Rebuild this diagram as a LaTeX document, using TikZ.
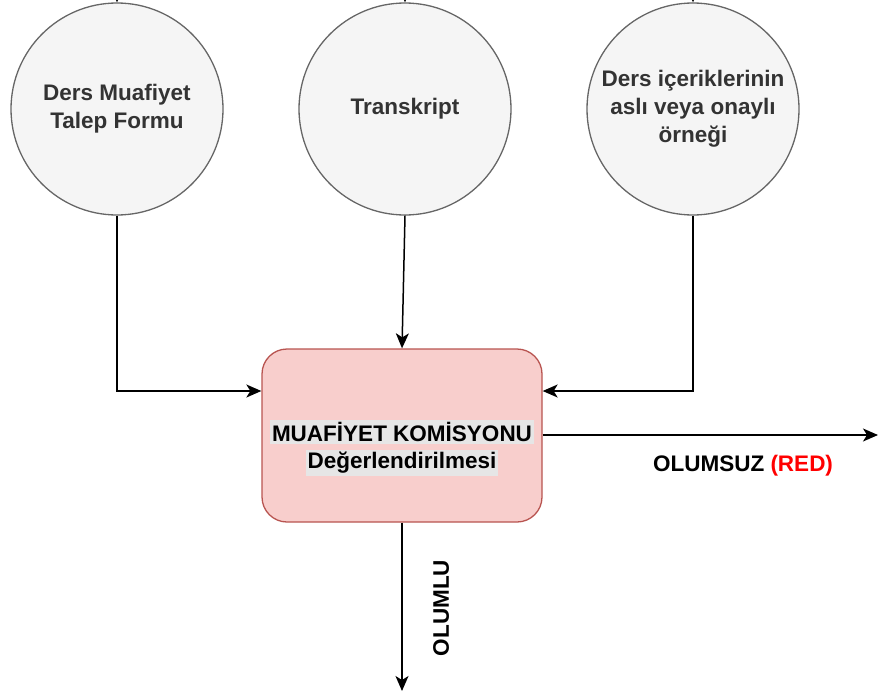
\documentclass[tikz,border=0pt]{standalone}
\usepackage{fontspec}
\setmainfont{Liberation Sans}
\usetikzlibrary{arrows.meta}
\definecolor{evrakfill}{HTML}{F5F5F5}
\definecolor{evrakline}{HTML}{666666}
\definecolor{evraktext}{HTML}{333333}
\definecolor{komfill}{HTML}{F8CECC}
\definecolor{komline}{HTML}{B85450}
\definecolor{yazibg}{HTML}{E6E6E6}
\setlength{\fboxsep}{2pt}
\begin{document}
\begin{tikzpicture}[x=1pt,y=-1pt,
    yazi/.style={font=\fontsize{22.5}{28}\selectfont\bfseries},
    evrak/.style={yazi,circle,draw=evrakline,fill=evrakfill,line width=1.3pt,
        minimum size=212pt,inner sep=0pt,align=center,text=evraktext},
    komisyon/.style={rectangle,rounded corners=25pt,draw=komline,fill=komfill,
        line width=1.3pt,minimum width=280pt,minimum height=173pt},
    akis/.style={line width=1.5pt,-{Stealth[length=15pt,width=13pt,inset=4pt]}}]
    \useasboundingbox (0,0) rectangle (878,693);
    % belgeler
    \node[evrak] (form) at (117,109) {Ders Muafiyet\\Talep Formu};
    \node[evrak] (transkript) at (405,109) {Transkript};
    \node[evrak] (icerik) at (693,109) {Ders içeriklerinin\\aslı veya onaylı\\örneği};
    % komisyon
    \node[komisyon] (kom) at (402,435.5) {};
    \node[yazi,align=center,font=\fontsize{22.5}{27}\selectfont\bfseries] (komyazi) at (402,448)
        {\colorbox{yazibg}{MUAFİYET KOMİSYONU}\\\colorbox{yazibg}{Değerlendirilmesi}};
    % serbest uclar
    \coordinate (g1) at (117,-30);
    \coordinate (g2) at (405,-30);
    \coordinate (g3) at (693,-30);
    \coordinate (red) at (878,435);
    \coordinate (onay) at (402,691);
    \draw[akis] (g1) -- (form.north);
    \draw[akis] (g2) -- (transkript.north);
    \draw[akis] (g3) -- (icerik.north);
    \draw[akis] (form.south) |- ([yshift=44.5pt]kom.west);
    \draw[akis] (transkript.south) -- (kom.north);
    \draw[akis] (icerik.south) |- ([yshift=44.5pt]kom.east);
    \draw[akis] ([yshift=0.5pt]kom.east) -- (red);
    \draw[akis] (kom.south) -- (onay);
    % sonuclar
    \node[yazi] (olumsuz) at (743,466) {OLUMSUZ \textcolor{red}{(RED)}};
    \node[yazi,rotate=90] (olumlu) at (441,608) {OLUMLU};
\end{tikzpicture}
\end{document}
